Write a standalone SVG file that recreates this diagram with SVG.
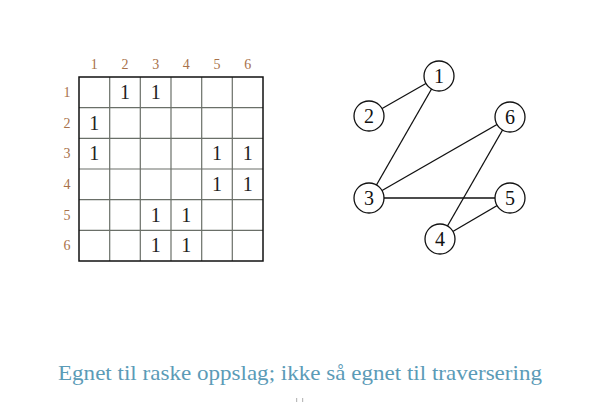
<svg xmlns="http://www.w3.org/2000/svg" width="615" height="402" viewBox="0 0 615 402">
<style>
.lbl{font-family:"Liberation Serif","DejaVu Serif",serif;font-size:14px;fill:#a8714a;text-anchor:middle}
.one{font-family:"Liberation Serif","DejaVu Serif",serif;font-size:20px;fill:#222;text-anchor:middle}
.grid{stroke:#6a6f68;stroke-width:1.2}
.node circle{fill:#fff;stroke:#111;stroke-width:1.3}
.node text{font-family:"Liberation Serif","DejaVu Serif",serif;font-size:20px;fill:#111;text-anchor:middle}
.edge{stroke:#111;stroke-width:1.3}
</style>
<rect width="615" height="402" fill="#fff"/>
<g id="matrix">
<g class="grid">
<line x1="109.7" y1="77" x2="109.7" y2="261"/>
<line x1="140.3" y1="77" x2="140.3" y2="261"/>
<line x1="171" y1="77" x2="171" y2="261"/>
<line x1="201.7" y1="77" x2="201.7" y2="261"/>
<line x1="232.3" y1="77" x2="232.3" y2="261"/>
<line x1="79" y1="107.7" x2="263" y2="107.7"/>
<line x1="79" y1="138.3" x2="263" y2="138.3"/>
<line x1="79" y1="169" x2="263" y2="169"/>
<line x1="79" y1="199.7" x2="263" y2="199.7"/>
<line x1="79" y1="230.3" x2="263" y2="230.3"/>
</g>
<rect x="79" y="77" width="184" height="184" fill="none" stroke="#111" stroke-width="1.5"/>
<g class="lbl">
<text x="94.3" y="69">1</text><text x="125" y="69">2</text><text x="155.7" y="69">3</text><text x="186.3" y="69">4</text><text x="217" y="69">5</text><text x="247.7" y="69">6</text>
<text x="67" y="97">1</text><text x="67" y="127.5">2</text><text x="67" y="158">3</text><text x="67" y="189">4</text><text x="67" y="219.5">5</text><text x="67" y="250">6</text>
</g>
<g class="one">
<text x="125" y="99">1</text><text x="155.7" y="99">1</text>
<text x="94.3" y="129.7">1</text>
<text x="94.3" y="160.4">1</text><text x="217" y="160.4">1</text><text x="247.7" y="160.4">1</text>
<text x="217" y="191">1</text><text x="247.7" y="191">1</text>
<text x="155.7" y="221.7">1</text><text x="186.3" y="221.7">1</text>
<text x="155.7" y="252.4">1</text><text x="186.3" y="252.4">1</text>
</g>
</g>
<g id="edges">
<line class="edge" x1="439" y1="76" x2="369" y2="116"/>
<line class="edge" x1="439" y1="76" x2="369" y2="198"/>
<line class="edge" x1="369" y1="198" x2="510" y2="117"/>
<line class="edge" x1="369" y1="198" x2="510" y2="198"/>
<line class="edge" x1="510" y1="117" x2="440" y2="239"/>
<line class="edge" x1="510" y1="198" x2="440" y2="239"/>
</g>
<g id="n1" class="node"><circle cx="439" cy="76" r="15"/><text x="439" y="83">1</text></g>
<g id="n2" class="node"><circle cx="369" cy="116" r="15"/><text x="369" y="123">2</text></g>
<g id="n6" class="node"><circle cx="510" cy="117" r="15"/><text x="510" y="124">6</text></g>
<g id="n3" class="node"><circle cx="369" cy="198" r="15"/><text x="369" y="205">3</text></g>
<g id="n5" class="node"><circle cx="510" cy="198" r="15"/><text x="510" y="205">5</text></g>
<g id="n4" class="node"><circle cx="440" cy="239" r="15"/><text x="440" y="246">4</text></g>
<text x="300" y="380" font-family="Liberation Serif,DejaVu Serif,serif" font-size="22" fill="#5b9bb7" text-anchor="middle" textLength="484" lengthAdjust="spacingAndGlyphs">Egnet til raske oppslag; ikke så egnet til traversering</text>
<rect x="296" y="398" width="1.2" height="4" fill="#bbb"/>
<rect x="302" y="398" width="1.2" height="4" fill="#bbb"/>
</svg>
